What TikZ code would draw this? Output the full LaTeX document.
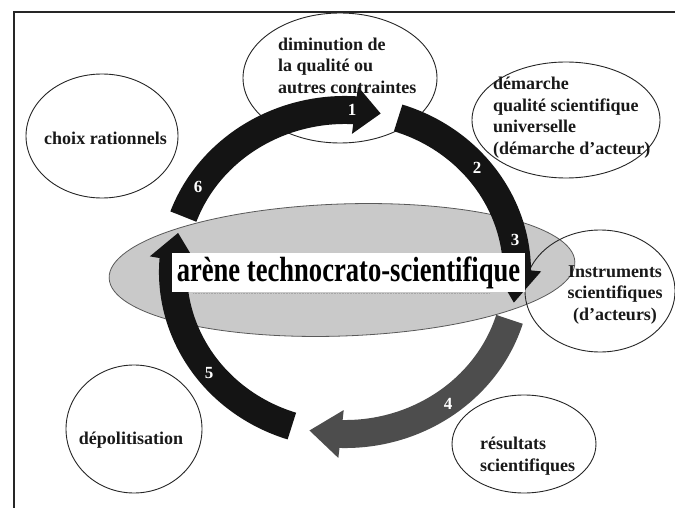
\documentclass[tikz,border=0pt]{standalone}
\usepackage{fontspec}
\setmainfont{Liberation Serif}
\usetikzlibrary{arrows.meta,bending,shapes.geometric}
\definecolor{ink}{HTML}{141414}
\definecolor{darkarrow}{HTML}{4D4D4D}
\definecolor{arena}{HTML}{C9C9C9}
\begin{document}
\begin{tikzpicture}[x=1pt,y=-1pt,
  bubble/.style={draw=black!85, line width=0.9pt, ellipse, inner sep=0pt},
  lbl/.style={font=\fontsize{18}{21.5}\selectfont\bfseries, inner sep=0pt, text=black!90},
  num/.style={font=\fontsize{17}{17}\selectfont\bfseries, text=white, inner sep=0pt},
  band/.style={line width=28pt, draw=ink},
]
\useasboundingbox (0,0) rectangle (675,508);
\fill[white] (0,0) rectangle (675,508);
% frame
\draw[line width=2pt, black!85] (14,508) -- (14,12) -- (675,12);

% central arena
\node[ellipse, fill=arena, draw=black!65, line width=0.8pt, minimum width=466pt,
      minimum height=132pt, rotate=2] (arena) at (342,270) {};

% bubbles
\node[bubble, minimum width=194pt, minimum height=130pt] (dim) at (340,78) {};
\node[bubble, minimum width=188pt, minimum height=116pt] (dem) at (566,120) {};
\node[bubble, minimum width=152pt, minimum height=124pt] (choix) at (102,136) {};
\node[bubble, minimum width=150pt, minimum height=122pt] (instr) at (600,291) {};
\node[bubble, minimum width=144pt, minimum height=98pt] (res) at (524,444) {};
\node[bubble, minimum width=136pt, minimum height=128pt] (depol) at (134,429) {};

% bubble texts
\node[lbl, align=left, anchor=west] (dimtxt) at (278,65.5) {diminution de\\la qualité ou\\autres contraintes};
\node[lbl, align=left, anchor=west] (demtxt) at (493,117.5) {démarche\\qualité scientifique\\universelle\\(démarche d'acteur)};
\node[lbl] (choixtxt) at (105.5,138) {choix rationnels};
\node[lbl, align=center] (instrtxt) at (615,295) {Instruments\\scientifiques\\(d'acteurs)};
\node[lbl, align=left, anchor=west] (restxt) at (480,456) {résultats\\scientifiques};
\node[lbl] (depoltxt) at (131,440) {dépolitisation};

% the cycle of curved arrows
\coordinate (ring) at (345,272);
\draw[band, -{Triangle[width=46pt,length=26pt]}]
  ({345+172*cos(200)},{272+162*sin(200)}) arc[start angle=200, end angle=282, x radius=172, y radius=162];
\draw[band, -{Triangle[width=46pt,length=34pt]}]
  ({345+172*cos(288)},{272+162*sin(288)}) arc[start angle=288, end angle=371, x radius=172, y radius=162];
\draw[band, draw=darkarrow, -{Triangle[width=46pt,length=32pt]}]
  ({345+172*cos(17)},{272+162*sin(17)}) arc[start angle=17, end angle=102, x radius=172, y radius=162];
\draw[band, -{Triangle[width=46pt,length=28pt]}]
  ({345+172*cos(108)},{272+162*sin(108)}) arc[start angle=108, end angle=194, x radius=172, y radius=162];

% step numbers
\node[num] (n1) at (352,110) {1};
\node[num] (n2) at (477,168) {2};
\node[num] (n3) at (515,240) {3};
\node[num] (n4) at (448,404) {4};
\node[num] (n5) at (209,373) {5};
\node[num] (n6) at (198,187) {6};

% arena title
\node[fill=white, inner sep=0pt, minimum width=353pt, minimum height=39pt,
      font=\fontsize{35}{35}\selectfont\bfseries] (title) at (348.5,272.5)
      {\scalebox{0.76}[1]{arène technocrato-scientifique}};
\draw[black!35, densely dotted, line width=0.6pt] (193,293.5) -- (490,293.5);
\end{tikzpicture}
\end{document}
